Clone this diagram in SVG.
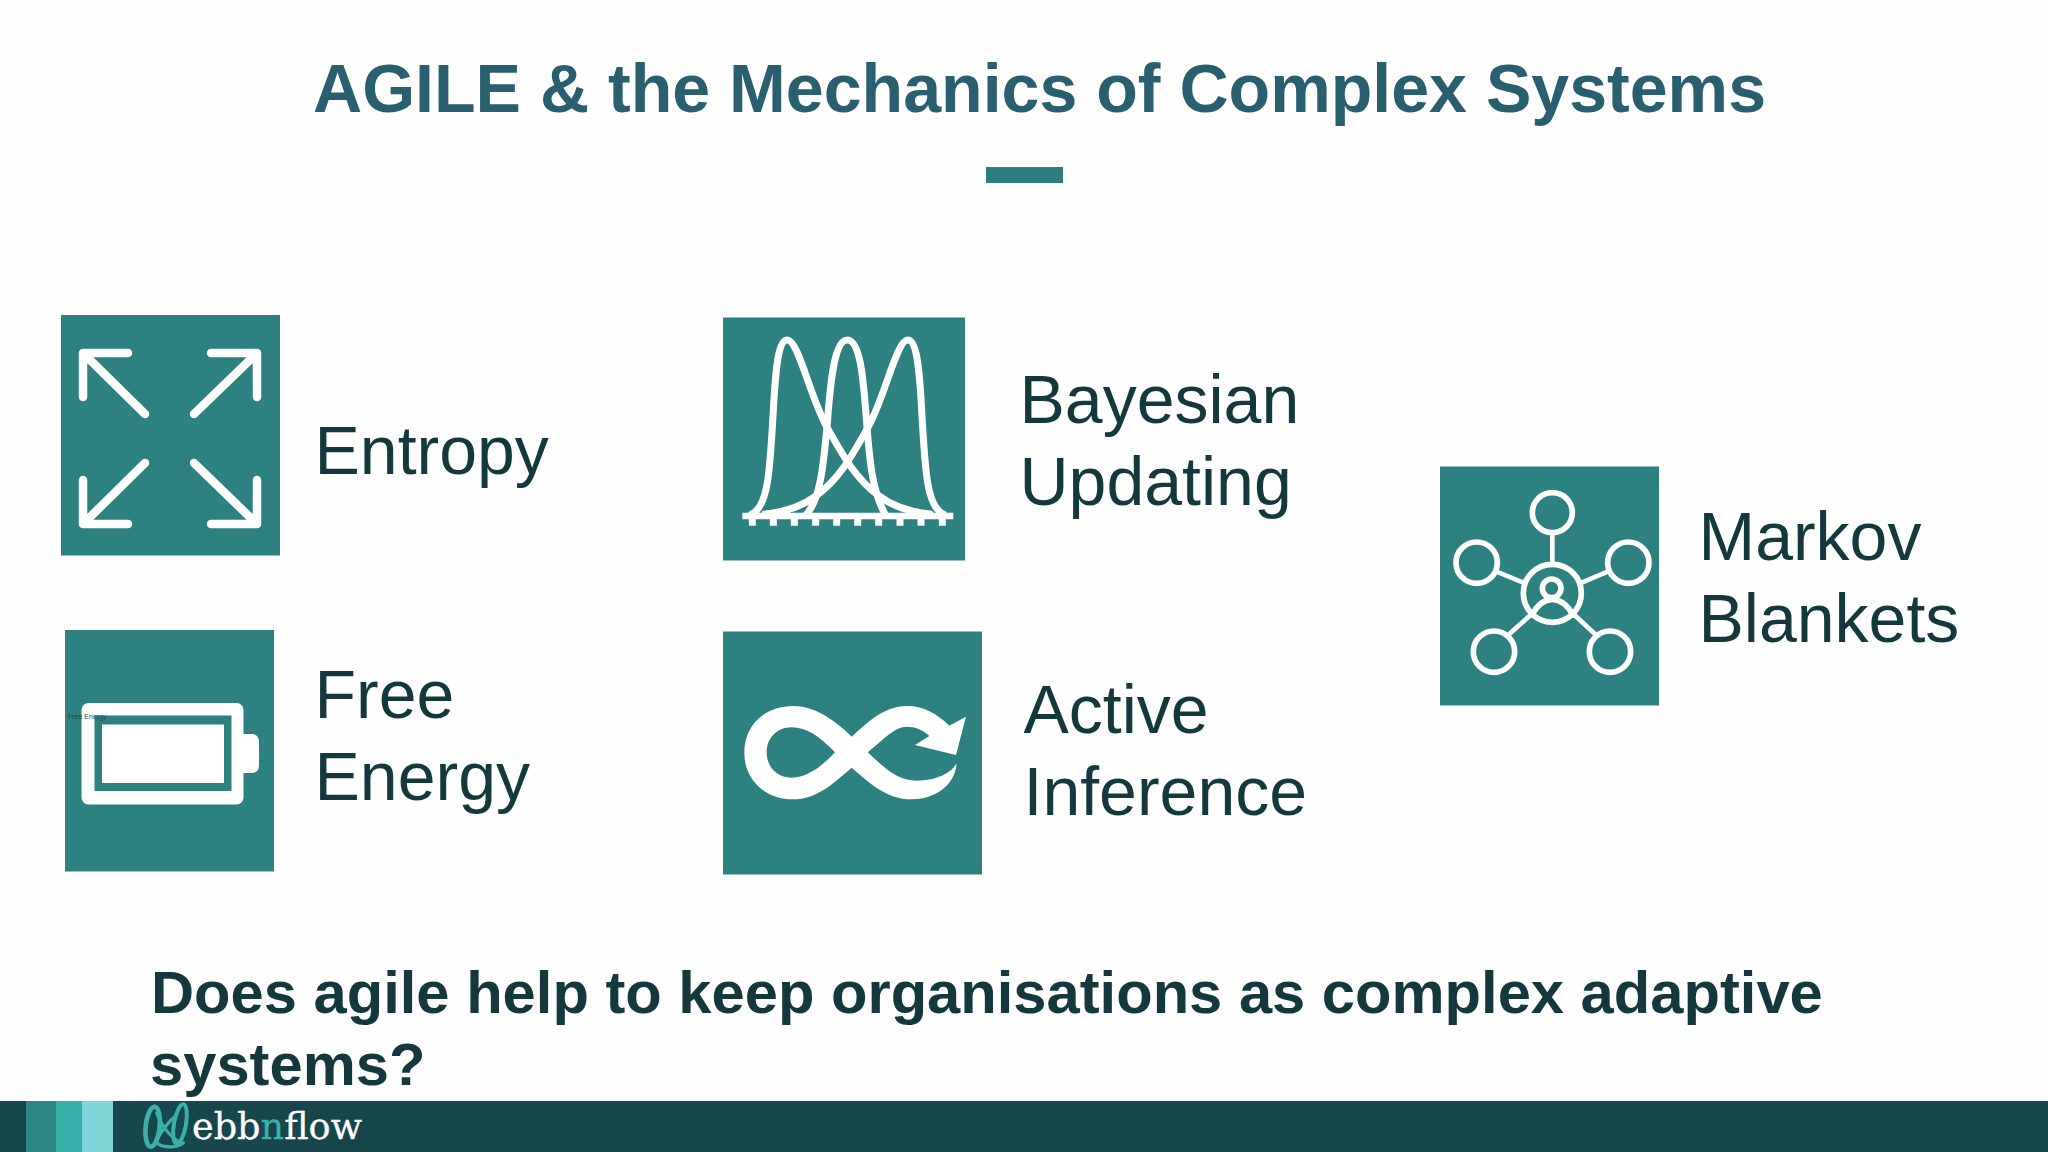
<svg xmlns="http://www.w3.org/2000/svg" width="2048" height="1152" viewBox="0 0 2048 1152">
<style>
text{font-family:"Liberation Sans",Arial,sans-serif}
.title{font-size:68.100px;font-weight:700;fill:#2a5f70}
.lbl{font-size:68px;fill:#14383c}
.q{font-size:59.700px;font-weight:700;fill:#14383c}
.box{fill:#2d8181}
.w{fill:none;stroke:#fff;stroke-linecap:round;stroke-linejoin:round}
</style>
<rect width="2048" height="1152" fill="#fefefe"/>
<text class="title" x="1039.500" y="112" text-anchor="middle">AGILE &amp; the Mechanics of Complex Systems</text>
<rect x="986" y="167" width="77" height="16" fill="#2d7d80"/>
<g id="entropy">
<rect class="box" x="61" y="315" width="219" height="240.500"/>
<g class="w" stroke-width="8.500">
<path d="M128 353H83V397M83 353L145 414"/>
<path d="M211 353H257V397M257 353L194 414"/>
<path d="M128 524H83V480M83 524L145 463"/>
<path d="M211 524H257V480M257 524L194 463"/>
</g>
<text class="lbl" x="314.500" y="473.500">Entropy</text>
</g>
<g id="free-energy">
<rect class="box" x="65" y="630" width="209" height="241.500"/>
<rect x="81.500" y="703" width="162" height="101.500" rx="7" fill="#fff"/>
<path d="M243 734H252a7 7 0 0 1 7 7V766a7 7 0 0 1-7 7H243Z" fill="#fff"/>
<rect x="94.500" y="715.500" width="137" height="75.500" fill="#2d8181"/>
<rect x="102" y="724.500" width="122" height="58.500" fill="#fff"/>
<text x="68" y="719" font-size="7" fill="#2c4a50">Free Energy</text>
<text class="lbl" x="314.500" y="718">Free</text>
<text class="lbl" x="314.500" y="800">Energy</text>
</g>
<g id="bayesian-updating">
<rect class="box" x="723" y="317.500" width="242" height="243"/>
<g transform="translate(710 310) scale(.33333)">
<path d="M97 618H730" stroke="#fff" stroke-width="20" fill="none"/>
<path d="M127 618V647M190 618V647M253 618V647M317 618V647M380 618V647M443 618V647M506 618V647M570 618V647M633 618V647M697 618V647" stroke="#fff" stroke-width="21" fill="none"/>
<g class="w" stroke-width="21" stroke-linecap="butt">
<path d="M125 612C175 590 180 480 190 300C197 170 205 90 232 90C265 90 300 260 350 350C400 440 440 510 510 560C550 590 600 606 660 612"/>
<path d="M290 612C330 570 340 470 352 340C362 200 375 90 412 90C450 90 460 200 470 340C480 470 490 550 525 612"/>
<path d="M700 612C650 590 645 480 635 300C628 170 620 90 593 90C560 90 525 260 475 350C425 440 385 510 315 560C275 590 225 606 165 612"/>
</g>
</g>
<text class="lbl" x="1019.500" y="423">Bayesian</text>
<text class="lbl" x="1019.500" y="505">Updating</text>
</g>
<g id="active-inference">
<rect class="box" x="723" y="631.500" width="259" height="243"/>
<path transform="translate(710 620) scale(.33333)" fill="#fff" fill-rule="evenodd" d="M425 350C370 295 310 258 250 258C165 258 103 315 103 398C103 480 165 538 250 538C320 538 370 490 425 443C480 490 530 538 605 538C670 538 735 500 740 430C720 465 670 482 620 482C560 482 520 440 473 397C520 360 550 322 590 320C615 320 640 330 658 348L615 375L738 405L768 290L718 317C680 280 640 258 590 258C520 258 470 310 425 350ZM375 397C330 350 290 322 245 322C200 322 170 355 170 397C170 440 200 473 245 473C290 473 335 440 375 397Z"/>
<text class="lbl" x="1023.500" y="733">Active</text>
<text class="lbl" x="1023.500" y="815">Inference</text>
</g>
<g id="markov-blankets">
<rect class="box" x="1440" y="466.500" width="219" height="239"/>
<g transform="translate(1430 460) scale(.33333)" class="w" stroke-width="17">
<circle cx="367" cy="158" r="60"/>
<circle cx="140" cy="308" r="62"/>
<circle cx="595" cy="308" r="62"/>
<circle cx="192" cy="575" r="62"/>
<circle cx="540" cy="575" r="62"/>
<circle cx="367" cy="400" r="87"/>
<circle cx="365" cy="385" r="28"/>
<path d="M305 465C325 430 345 418 367 418C395 418 415 440 430 465"/>
<path d="M367 222V313M200 335L280 368M533 335L455 368M238 522L305 462M495 522L430 462" stroke-width="14"/>
</g>
<text class="lbl" x="1698.500" y="560">Markov</text>
<text class="lbl" x="1698.500" y="642">Blankets</text>
</g>
<text class="q" x="151" y="1012.500">Does agile help to keep organisations as complex adaptive</text>
<text class="q" x="150" y="1084.500">systems?</text>
<g id="footer">
<rect y="1101" width="2048" height="51" fill="#18464d"/>
<rect x="26" y="1101" width="30" height="51" fill="#2d8585"/>
<rect x="56" y="1101" width="26" height="51" fill="#3ab0ab"/>
<rect x="82" y="1101" width="31" height="51" fill="#80d5d8"/>
<g transform="translate(0 1080) scale(.33333)" fill="none" stroke="#3ab0ab" stroke-linecap="round">
<ellipse cx="458" cy="140" rx="21" ry="60" transform="rotate(6 458 140)" stroke-width="14"/>
<ellipse cx="540" cy="132" rx="18" ry="60" transform="rotate(10 540 132)" stroke-width="12"/>
<path d="M470 100C490 145 510 170 545 190" stroke-width="9"/>
<path d="M530 105C500 130 480 160 468 185C480 205 530 205 550 188" stroke-width="10"/>
</g>
<text x="192" y="1139" font-size="38" stroke="#fff" stroke-width=".3" style="font-family:'DejaVu Serif',serif" fill="#fff" textLength="170" lengthAdjust="spacingAndGlyphs">ebb<tspan fill="#3ab0ab" stroke="#3ab0ab">n</tspan>flow</text>
</g>
</svg>
